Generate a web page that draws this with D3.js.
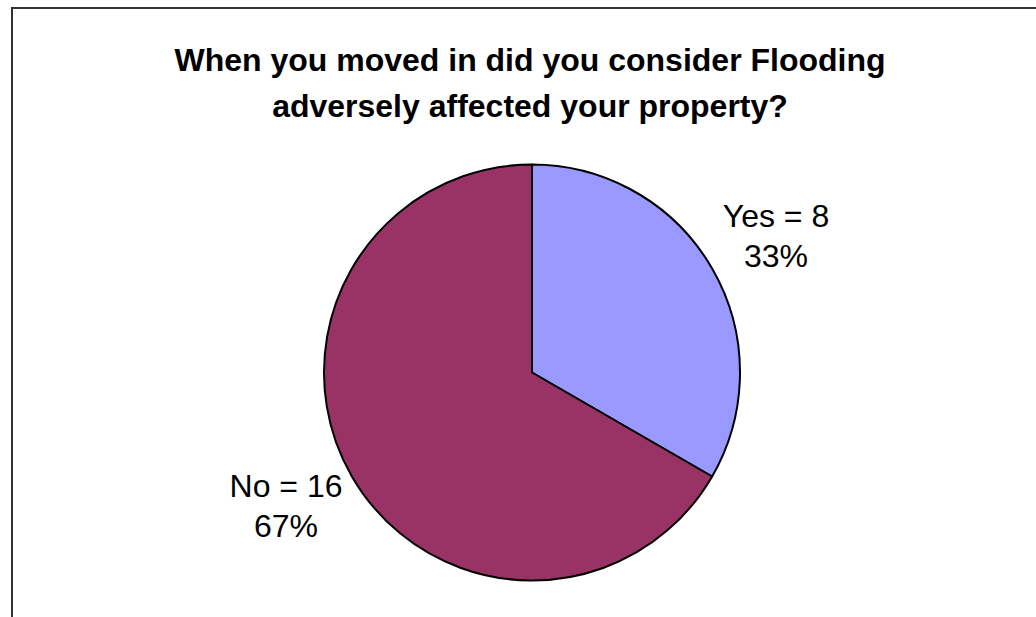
<!DOCTYPE html>
<html>
<head>
<meta charset="utf-8">
<script src="https://cdn.jsdelivr.net/npm/d3@7"></script>
<style>
  html, body { margin: 0; padding: 0; background: #fff; }
  svg { display: block; }
</style>
</head>
<body>
<svg id="chart" width="1036" height="617"></svg>
<script>
// Survey answers
const categories = ["Yes", "No"];
const counts = [8, 16];
const colors = ["#9999FF", "#993366"];
const titleLines = [
  "When you moved in did you consider Flooding",
  "adversely affected your property?"
];

const svg = d3.select("#chart");
const font = "Arial, 'Liberation Sans', Helvetica, sans-serif";

// Chart area frame (runs past the right and bottom edges)
svg.append("rect")
  .attr("x", 12).attr("y", 8)
  .attr("width", 1100).attr("height", 700)
  .attr("fill", "#fff")
  .attr("stroke", "#333")
  .attr("stroke-width", 2);

// Title
svg.append("g").selectAll("text")
  .data(titleLines)
  .join("text")
  .attr("x", 530)
  .attr("y", (d, i) => 70.5 + i * 46.5)
  .attr("text-anchor", "middle")
  .attr("font-family", font)
  .attr("font-weight", "bold")
  .attr("font-size", 32)
  .attr("fill", "#000")
  .text(d => d);

// Pie
const cx = 532, cy = 372.5, r = 208;
const data = categories.map((c, i) => ({ cat: c, value: counts[i], color: colors[i] }));
const total = d3.sum(counts);
const pie = d3.pie().sort(null).value(d => d.value);
const arc = d3.arc().innerRadius(0).outerRadius(r);
const arcs = pie(data);

const g = svg.append("g").attr("transform", `translate(${cx},${cy})`);
g.selectAll("path")
  .data(arcs)
  .join("path")
  .attr("d", arc)
  .attr("fill", d => d.data.color)
  .attr("stroke", "#000")
  .attr("stroke-width", 2)
  .attr("stroke-linejoin", "round");

// Data labels outside the slices
const labelPos = [[776, 227], [286, 497]];
const labels = svg.append("g");
arcs.forEach((a, i) => {
  const pct = Math.round(a.data.value / total * 100) + "%";
  const t = labels.append("text")
    .attr("text-anchor", "middle")
    .attr("font-family", font)
    .attr("font-size", 32)
    .attr("fill", "#000");
  t.append("tspan").attr("x", labelPos[i][0]).attr("y", labelPos[i][1])
    .text(`${a.data.cat} = ${a.data.value}`);
  t.append("tspan").attr("x", labelPos[i][0]).attr("y", labelPos[i][1] + 40)
    .text(pct);
});
</script>
</body>
</html>
